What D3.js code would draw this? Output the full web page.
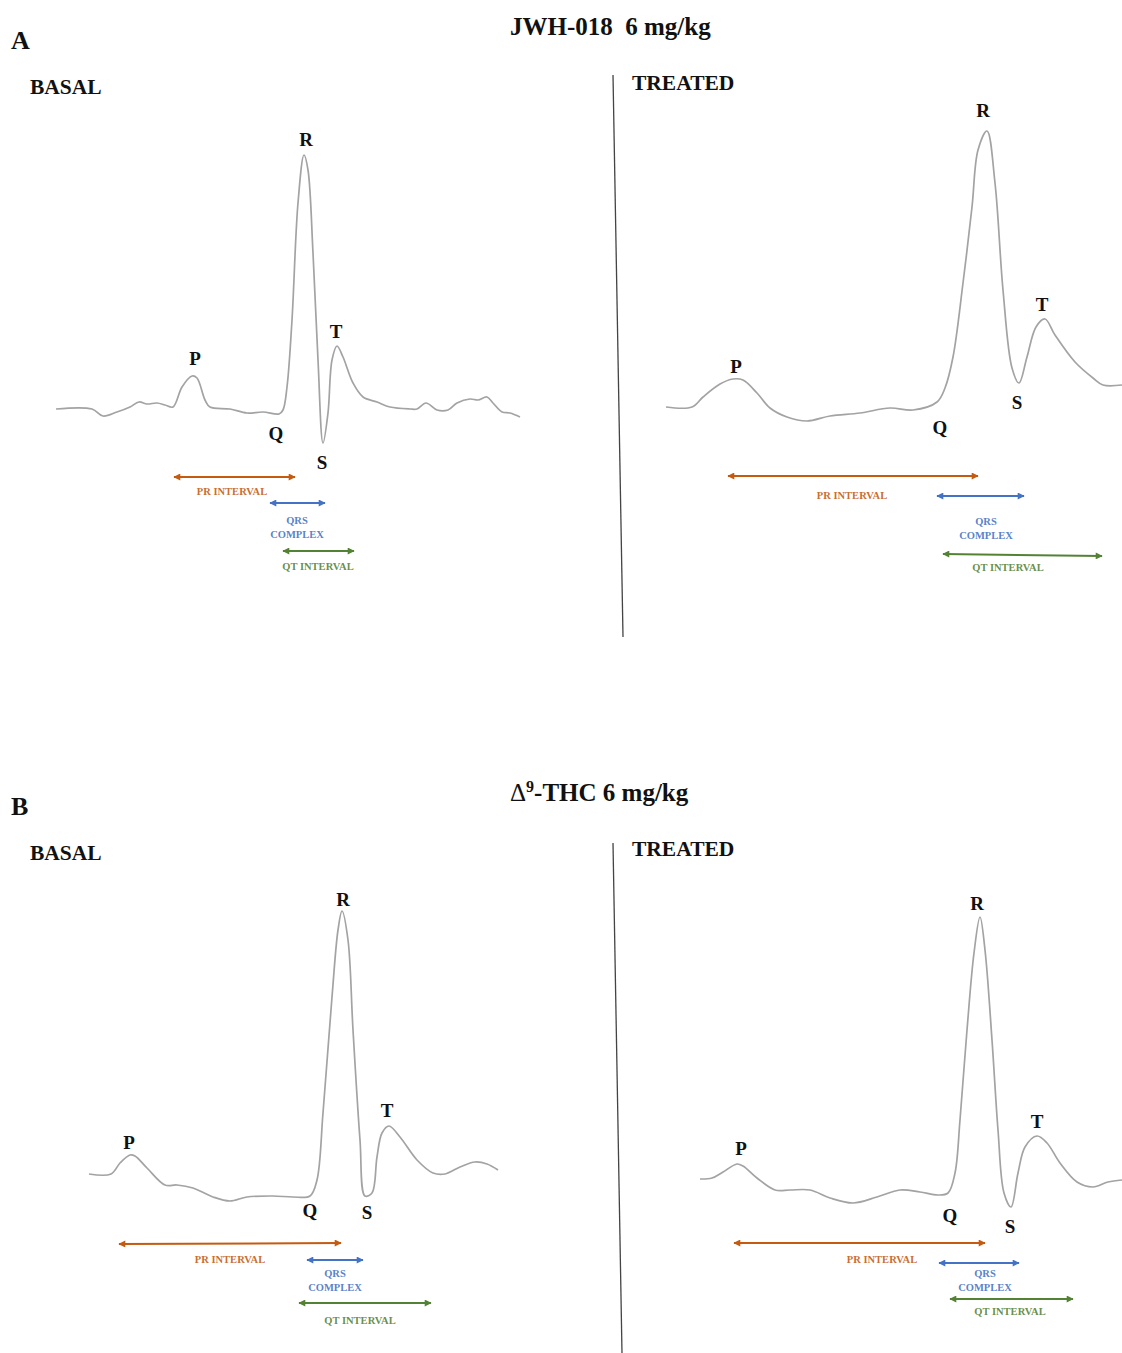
<!DOCTYPE html>
<html>
<head>
<meta charset="utf-8">
<script src="https://cdn.jsdelivr.net/npm/d3@7"></script>
<style>
  html, body { margin: 0; padding: 0; background: #fff; }
  svg { display: block; }
  text { font-family: "Liberation Serif", "Times New Roman", serif; }
</style>
</head>
<body>
<svg id="chart" width="1122" height="1353"></svg>
<script>
// ---- ECG traces: [time, amplitude] samples (arbitrary units, baseline = 0) ----
const jwhBasal = [
  [0,0],[36,0],[47,-7],[61,-3],[74,2],[83,7],[91,5],[101,6],[109,4],[117,2],
  [126,22],[136,33],[141,31],[149,9],[154,2],[174,0],[191,-4],[207,-3],[223,-5],
  [227,-1],[231,22],[236,89],[242,206],[248,254],[252,239],[257,156],[262,49],
  [267,-34],[272,-4],[276,49],[281,63],[287,52],[297,26],[307,12],[321,7],[334,2],
  [354,0],[361,0],[370,6],[381,-1],[392,-1],[401,6],[414,10],[422,9],[431,12],
  [437,6],[446,-3],[454,-4],[464,-8]
];
const jwhTreated = [
  [0,0],[26,0],[37,10],[54,23],[67,28],[77,27],[91,14],[104,-1],[121,-10],[141,-14],
  [164,-9],[194,-6],[224,-1],[247,-3],[271,5],[279,19],[287,50],[297,124],[306,200],
  [312,257],[321,276],[329,224],[337,117],[346,39],[353,24],[361,50],[370,80],
  [379,88],[389,72],[409,45],[427,29],[437,22],[456,22]
];
const thcBasal = [
  [0,0],[22,0],[31,11],[41,19],[46,18],[58,6],[76,-11],[88,-11],[104,-14],[124,-23],
  [141,-27],[158,-23],[184,-22],[204,-23],[221,-22],[228,-6],[234,61],[243,177],
  [249,244],[253,263],[259,234],[264,144],[271,34],[276,-22],[283,-19],[288,17],
  [293,41],[300,48],[311,37],[328,14],[344,1],[356,0],[371,7],[386,12],[398,10],[409,4]
];
const thcTreated = [
  [0,0],[12,1],[23,7],[37,15],[43,13],[57,1],[75,-11],[90,-11],[110,-11],[130,-19],
  [153,-24],[177,-18],[200,-11],[220,-13],[238,-16],[248,-14],[255,6],[260,59],
  [267,149],[274,226],[280,262],[285,229],[292,139],[298,49],[304,-14],[311,-28],
  [318,6],[325,32],[337,43],[347,36],[360,16],[377,-3],[393,-8],[408,-3],[422,-1]
];

// ---- Wave labels: [name, time, amplitude] ----
const jwhBasalWaves   = [["P",139,51],["Q",220,-24],["R",250,270],["S",266,-53],["T",280,78]];
const jwhTreatedWaves = [["P",70,41],["Q",274,-20],["R",317,297],["S",351,5],["T",376,103]];
const thcBasalWaves   = [["P",40,32],["Q",221,-36],["R",254,275],["S",278,-38],["T",298,64]];
const thcTreatedWaves = [["P",41,31],["Q",250,-36],["R",277,276],["S",310,-47],["T",337,58]];

// ---- Intervals: [name, start, end, label position] ----
const jwhBasalIntervals   = [["PR",118,239,176],["QRS",214,269,241],["QT",227,298,262]];
const jwhTreatedIntervals = [["PR",62,312,186],["QRS",271,358,320],["QT",277,436,342]];
const thcBasalIntervals   = [["PR",30,252,141],["QRS",218,274,246],["QT",210,342,271]];
const thcTreatedIntervals = [["PR",34,285,182],["QRS",239,319,285],["QT",250,373,310]];

const intervalLabels = { PR: ["PR INTERVAL"], QRS: ["QRS", "COMPLEX"], QT: ["QT INTERVAL"] };
const intervalColors = { PR: "#c55a11", QRS: "#4472c4", QT: "#548235" };

const svg = d3.select("#chart");

// arrowhead markers, one per interval colour
const defs = svg.append("defs");
Object.entries(intervalColors).forEach(([k, c]) => {
  defs.append("marker")
    .attr("id", "arrow-" + k)
    .attr("viewBox", "0 0 10 10")
    .attr("refX", 9).attr("refY", 5)
    .attr("markerUnits", "userSpaceOnUse")
    .attr("markerWidth", 8).attr("markerHeight", 7)
    .attr("orient", "auto-start-reverse")
    .append("path")
    .attr("d", "M0,0 L10,5 L0,10 Z")
    .attr("fill", c);
});

// one panel: trace + wave letters + interval arrows
function drawPanel(cfg) {
  const x = d3.scaleLinear().domain([0, 1]).range([cfg.left, cfg.left + 1]);
  const y = d3.scaleLinear().domain([0, 1]).range([cfg.base, cfg.base - 1]);
  const g = svg.append("g");

  const line = d3.line()
    .x(d => x(d[0])).y(d => y(d[1]))
    .curve(d3.curveCatmullRom.alpha(0.5));

  g.append("path")
    .datum(cfg.trace)
    .attr("d", line)
    .attr("fill", "none")
    .attr("stroke", "#a3a3a3")
    .attr("stroke-width", 1.7)
    .attr("stroke-linejoin", "round");

  g.selectAll("text.wave")
    .data(cfg.waves)
    .join("text")
    .attr("class", "wave")
    .attr("x", d => x(d[1]))
    .attr("y", d => y(d[2]))
    .attr("dy", "0.35em")
    .attr("text-anchor", "middle")
    .attr("font-size", 19)
    .attr("font-weight", "bold")
    .attr("fill", "#111")
    .text(d => d[0]);

  cfg.intervals.forEach(iv => {
    const [name, t0, t1, tl] = iv;
    const lay = cfg.rows[name];
    const col = intervalColors[name];
    g.append("line")
      .attr("x1", x(t0)).attr("x2", x(t1))
      .attr("y1", lay.y).attr("y2", lay.y + (lay.tilt || 0))
      .attr("stroke", col)
      .attr("stroke-width", 2)
      .attr("marker-start", `url(#arrow-${name})`)
      .attr("marker-end", `url(#arrow-${name})`);
    intervalLabels[name].forEach((s, j) => {
      g.append("text")
        .attr("x", x(tl))
        .attr("y", lay.ty + j * 14)
        .attr("text-anchor", "middle")
        .attr("font-size", 10.5)
        .attr("font-weight", "bold")
        .attr("fill", col)
        .attr("fill-opacity", 0.9)
        .text(s);
    });
  });
}

drawPanel({ left: 56, base: 409, trace: jwhBasal, waves: jwhBasalWaves, intervals: jwhBasalIntervals,
  rows: { PR: { y: 477, ty: 495 }, QRS: { y: 503, ty: 524 }, QT: { y: 551, ty: 570 } } });
drawPanel({ left: 666, base: 407, trace: jwhTreated, waves: jwhTreatedWaves, intervals: jwhTreatedIntervals,
  rows: { PR: { y: 476, ty: 499 }, QRS: { y: 496, ty: 525 }, QT: { y: 554, ty: 571, tilt: 2 } } });
drawPanel({ left: 89, base: 1174, trace: thcBasal, waves: thcBasalWaves, intervals: thcBasalIntervals,
  rows: { PR: { y: 1244, ty: 1263, tilt: -1 }, QRS: { y: 1260, ty: 1277 }, QT: { y: 1303, ty: 1324 } } });
drawPanel({ left: 700, base: 1179, trace: thcTreated, waves: thcTreatedWaves, intervals: thcTreatedIntervals,
  rows: { PR: { y: 1243, ty: 1263 }, QRS: { y: 1263, ty: 1277 }, QT: { y: 1299, ty: 1315 } } });

// ---- headings, condition labels and dividers ----
const heads = svg.append("g").attr("fill", "#111").attr("font-weight", "bold");
heads.append("text").attr("x", 11).attr("y", 49).attr("font-size", 26).text("A");
heads.append("text").attr("x", 11).attr("y", 815).attr("font-size", 26).text("B");

heads.append("text").attr("x", 510).attr("y", 35).attr("font-size", 25)
  .style("white-space", "pre").text("JWH-018  6 mg/kg");
const thc = heads.append("text").attr("x", 510).attr("y", 801).attr("font-size", 25);
thc.append("tspan").attr("font-weight", "normal").text("\u0394");
thc.append("tspan").attr("font-size", 16).attr("dy", -9).text("9");
thc.append("tspan").attr("dy", 9).text("-THC 6 mg/kg");

[[30, 94, "BASAL"], [632, 90, "TREATED"], [30, 860, "BASAL"], [632, 856, "TREATED"]]
  .forEach(([tx, ty, s]) => heads.append("text").attr("x", tx).attr("y", ty).attr("font-size", 21.5).text(s));

[[613, 75, 623, 637], [613, 843, 622, 1353]].forEach(([x1, y1, x2, y2]) =>
  svg.append("line").attr("x1", x1).attr("y1", y1).attr("x2", x2).attr("y2", y2)
    .attr("stroke", "#444").attr("stroke-width", 1.3));
</script>
</body>
</html>
